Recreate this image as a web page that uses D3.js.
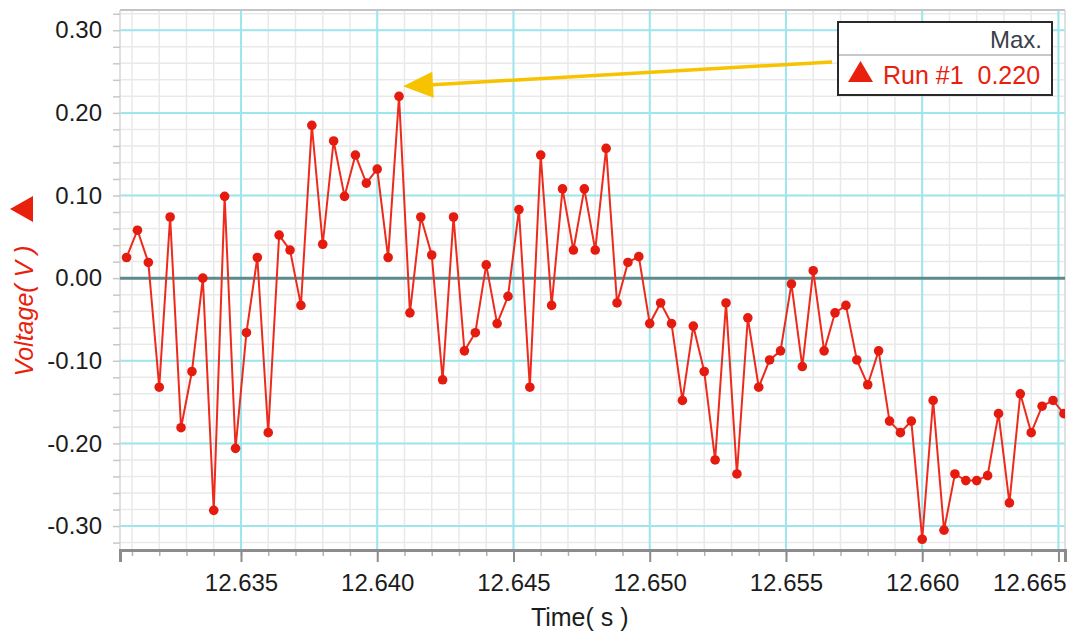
<!DOCTYPE html>
<html>
<head>
<meta charset="utf-8">
<script src="https://d3js.org/d3.v7.min.js"></script>
<style>
    html, body { margin: 0; padding: 0; background: #fff; }
    #chart { width: 1071px; height: 637px; }
    text { font-family: "Liberation Sans", Arial, Helvetica, sans-serif; }
</style>
</head>
<body>
<div id="chart"></div>
<script>
// sample times (s) for Run #1
const times = [
    12.6308, 12.6312, 12.6316, 12.6320, 12.6324, 12.6328, 12.6332, 12.6336, 12.6340, 12.6344,
    12.6348, 12.6352, 12.6356, 12.6360, 12.6364, 12.6368, 12.6372, 12.6376, 12.6380, 12.6384,
    12.6388, 12.6392, 12.6396, 12.6400, 12.6404, 12.6408, 12.6412, 12.6416, 12.6420, 12.6424,
    12.6428, 12.6432, 12.6436, 12.6440, 12.6444, 12.6448, 12.6452, 12.6456, 12.6460, 12.6464,
    12.6468, 12.6472, 12.6476, 12.6480, 12.6484, 12.6488, 12.6492, 12.6496, 12.6500, 12.6504,
    12.6508, 12.6512, 12.6516, 12.6520, 12.6524, 12.6528, 12.6532, 12.6536, 12.6540, 12.6544,
    12.6548, 12.6552, 12.6556, 12.6560, 12.6564, 12.6568, 12.6572, 12.6576, 12.6580, 12.6584,
    12.6588, 12.6592, 12.6596, 12.6600, 12.6604, 12.6608, 12.6612, 12.6616, 12.6620, 12.6624,
    12.6628, 12.6632, 12.6636, 12.6640, 12.6644, 12.6648, 12.6652
];

// voltage readings (V) for Run #1
const voltages = [
    0.025, 0.058, 0.019, -0.132, 0.074, -0.181, -0.113, 0.000, -0.281, 0.099,
    -0.206, -0.066, 0.025, -0.187, 0.052, 0.034, -0.033, 0.185, 0.041, 0.166,
    0.099, 0.149, 0.115, 0.132, 0.025, 0.220, -0.042, 0.074, 0.028, -0.123,
    0.074, -0.088, -0.066, 0.016, -0.055, -0.022, 0.083, -0.132, 0.149, -0.033,
    0.108, 0.034, 0.108, 0.034, 0.157, -0.030, 0.019, 0.026, -0.055, -0.030,
    -0.055, -0.148, -0.058, -0.113, -0.220, -0.030, -0.237, -0.048, -0.132, -0.099,
    -0.088, -0.007, -0.107, 0.009, -0.088, -0.042, -0.033, -0.099, -0.129, -0.088,
    -0.173, -0.187, -0.173, -0.316, -0.148, -0.305, -0.237, -0.245, -0.245, -0.239,
    -0.164, -0.272, -0.140, -0.187, -0.155, -0.148, -0.164
];

// labelled ticks
const xTicks = [12.635, 12.640, 12.645, 12.650, 12.655, 12.660, 12.665];
const yTicks = [-0.30, -0.20, -0.10, 0.00, 0.10, 0.20, 0.30];

document.addEventListener('DOMContentLoaded', function () {
    const width = 1071, height = 637;
    const margin = { top: 10, right: 6, bottom: 87, left: 120 };
    const plotW = width - margin.left - margin.right,
        plotH = height - margin.top - margin.bottom;

    const data = times.map((t, i) => ({ t: t, v: voltages[i] }));

    const svg = d3.select("#chart")
        .append("svg")
        .attr("width", width)
        .attr("height", height);

    const g = svg.append("g")
        .attr("transform", `translate(${margin.left},${margin.top})`);

    // scales
    const x = d3.scaleLinear()
        .domain([12.63056, 12.66524])
        .range([0, plotW]);
    const y = d3.scaleLinear()
        .domain([-0.329, 0.3245])
        .range([plotH, 0]);

    // minor grid
    g.append("g")
        .selectAll("line")
        .data(x.ticks(40))
        .join("line")
        .attr("x1", d => x(d)).attr("x2", d => x(d))
        .attr("y1", 0).attr("y2", plotH)
        .attr("stroke", "#e9e9e9")
        .attr("stroke-width", 1.5);
    g.append("g")
        .selectAll("line")
        .data(y.ticks(30))
        .join("line")
        .attr("x1", 0).attr("x2", plotW)
        .attr("y1", d => y(d)).attr("y2", d => y(d))
        .attr("stroke", "#e9e9e9")
        .attr("stroke-width", 1.5);

    // major grid (cyan)
    g.append("g")
        .selectAll("line")
        .data(xTicks)
        .join("line")
        .attr("x1", d => x(d)).attr("x2", d => x(d))
        .attr("y1", 0).attr("y2", plotH)
        .attr("stroke", "#9ce6ee")
        .attr("stroke-width", 2);
    g.append("g")
        .selectAll("line")
        .data(yTicks)
        .join("line")
        .attr("x1", 0).attr("x2", plotW)
        .attr("y1", d => y(d)).attr("y2", d => y(d))
        .attr("stroke", "#9ce6ee")
        .attr("stroke-width", 2);

    // frame
    g.append("line").attr("x1", 0).attr("x2", plotW).attr("y1", 0).attr("y2", 0)
        .attr("stroke", "#c4c4c4").attr("stroke-width", 2);
    g.append("line").attr("x1", 0).attr("x2", 0).attr("y1", 0).attr("y2", plotH)
        .attr("stroke", "#d6d6d6").attr("stroke-width", 1.5);
    g.append("line").attr("x1", plotW).attr("x2", plotW).attr("y1", 0).attr("y2", plotH)
        .attr("stroke", "#d6d6d6").attr("stroke-width", 1.5);

    // zero line
    g.append("line")
        .attr("x1", 0).attr("x2", plotW)
        .attr("y1", y(0)).attr("y2", y(0))
        .attr("stroke", "#5f8a8c")
        .attr("stroke-width", 3);

    // x axis: minor ticks, then labelled ticks
    const xMinor = g.append("g")
        .attr("transform", `translate(0,${plotH})`)
        .call(d3.axisBottom(x).tickValues(x.ticks(40)).tickSize(6).tickFormat(""));
    xMinor.select(".domain").remove();
    xMinor.selectAll("line").attr("stroke", "#b0b0b0").attr("stroke-width", 1.5);

    const xAxis = g.append("g")
        .attr("transform", `translate(0,${plotH})`)
        .call(d3.axisBottom(x).tickValues(xTicks).tickSize(12).tickPadding(12)
            .tickFormat(d => d.toFixed(3)));
    xAxis.select(".domain")
        .attr("stroke", "#8c8c8c")
        .attr("stroke-width", 3);
    xAxis.selectAll("line").attr("stroke", "#8c8c8c").attr("stroke-width", 2);
    xAxis.selectAll("text")
        .attr("fill", "#1c1c1c")
        .style("font-size", "24px");
    // last label would run off the page, so pull it inside like the original
    xAxis.selectAll(".tick")
        .filter(d => d === xTicks[xTicks.length - 1])
        .select("text")
        .attr("text-anchor", "end")
        .attr("x", plotW - x(xTicks[xTicks.length - 1]) + 1);

    // y axis
    const yMinor = g.append("g")
        .call(d3.axisLeft(y).tickValues(y.ticks(30)).tickSize(7).tickFormat(""));
    yMinor.select(".domain").remove();
    yMinor.selectAll("line").attr("stroke", "#c8c8c8").attr("stroke-width", 1.5);

    const yAxis = g.append("g")
        .call(d3.axisLeft(y).tickValues(yTicks).tickSize(0).tickPadding(18)
            .tickFormat(d => d.toFixed(2)));
    yAxis.select(".domain").remove();
    yAxis.selectAll("text")
        .attr("fill", "#1c1c1c")
        .style("font-size", "24px");

    // axis titles
    svg.append("text")
        .attr("x", margin.left + x(12.6500) - 70)
        .attr("y", 626)
        .attr("text-anchor", "middle")
        .attr("fill", "#1c1c1c")
        .style("font-size", "25px")
        .text("Time( s )");

    svg.append("text")
        .attr("transform", "translate(33,311) rotate(-90)")
        .attr("text-anchor", "middle")
        .attr("fill", "#e8200c")
        .style("font-size", "25px")
        .style("font-style", "italic")
        .text("Voltage( V )");

    // run marker next to the y title
    svg.append("path")
        .attr("d", "M10,209 L33,196 L33,222 Z")
        .attr("fill", "#e8200c");

    // data line and points, clipped to the plot
    svg.append("clipPath")
        .attr("id", "plot-clip")
        .append("rect")
        .attr("x", 0).attr("y", 0)
        .attr("width", plotW).attr("height", plotH);

    const series = g.append("g").attr("clip-path", "url(#plot-clip)");

    const line = d3.line()
        .x(d => x(d.t))
        .y(d => y(d.v));

    series.append("path")
        .datum(data)
        .attr("fill", "none")
        .attr("stroke", "#ee2a1c")
        .attr("stroke-width", 2)
        .attr("d", line);

    series.selectAll("circle")
        .data(data)
        .join("circle")
        .attr("cx", d => x(d.t))
        .attr("cy", d => y(d.v))
        .attr("r", 4.8)
        .attr("fill", "#e41b0e");

    // legend box (max of run)
    const maxPt = data.reduce((a, b) => (b.v > a.v ? b : a));
    const lx = 838, ly = 22, lw = 214, lh = 73;

    // yellow arrow pointing at the max point
    const tipX = x(maxPt.t) + margin.left + 4,
        tipY = y(maxPt.v) + margin.top - 10;
    const startX = lx - 6, startY = 62;
    const ang = Math.atan2(startY - tipY, startX - tipX);
    const headL = 30, headW = 13;
    const bx = tipX + headL * Math.cos(ang), by = tipY + headL * Math.sin(ang);
    svg.append("line")
        .attr("x1", startX).attr("y1", startY)
        .attr("x2", bx).attr("y2", by)
        .attr("stroke", "#f7c300")
        .attr("stroke-width", 3.5);
    svg.append("path")
        .attr("d", `M${tipX},${tipY}
            L${bx - headW * Math.sin(ang)},${by + headW * Math.cos(ang)}
            L${bx + headW * Math.sin(ang)},${by - headW * Math.cos(ang)} Z`)
        .attr("fill", "#f7c300");

    const legend = svg.append("g");
    legend.append("rect")
        .attr("x", lx).attr("y", ly)
        .attr("width", lw).attr("height", lh)
        .attr("fill", "#fff")
        .attr("stroke", "#2a2a2a")
        .attr("stroke-width", 2);
    legend.append("line")
        .attr("x1", lx + 1).attr("x2", lx + lw - 1)
        .attr("y1", ly + 33).attr("y2", ly + 33)
        .attr("stroke", "#c8c8c8")
        .attr("stroke-width", 2);
    legend.append("text")
        .attr("x", lx + lw - 10)
        .attr("y", ly + 26)
        .attr("text-anchor", "end")
        .attr("fill", "#3c4048")
        .style("font-size", "24px")
        .text("Max.");
    legend.append("path")
        .attr("d", `M${lx + 10},${ly + 60} L${lx + 35},${ly + 60} L${lx + 22.5},${ly + 39} Z`)
        .attr("fill", "#e8200c");
    legend.append("text")
        .attr("x", lx + 45)
        .attr("y", ly + 62)
        .attr("fill", "#e8200c")
        .style("font-size", "25px")
        .style("white-space", "pre")
        .text("Run #1  " + maxPt.v.toFixed(3));
});
</script>
</body>
</html>
